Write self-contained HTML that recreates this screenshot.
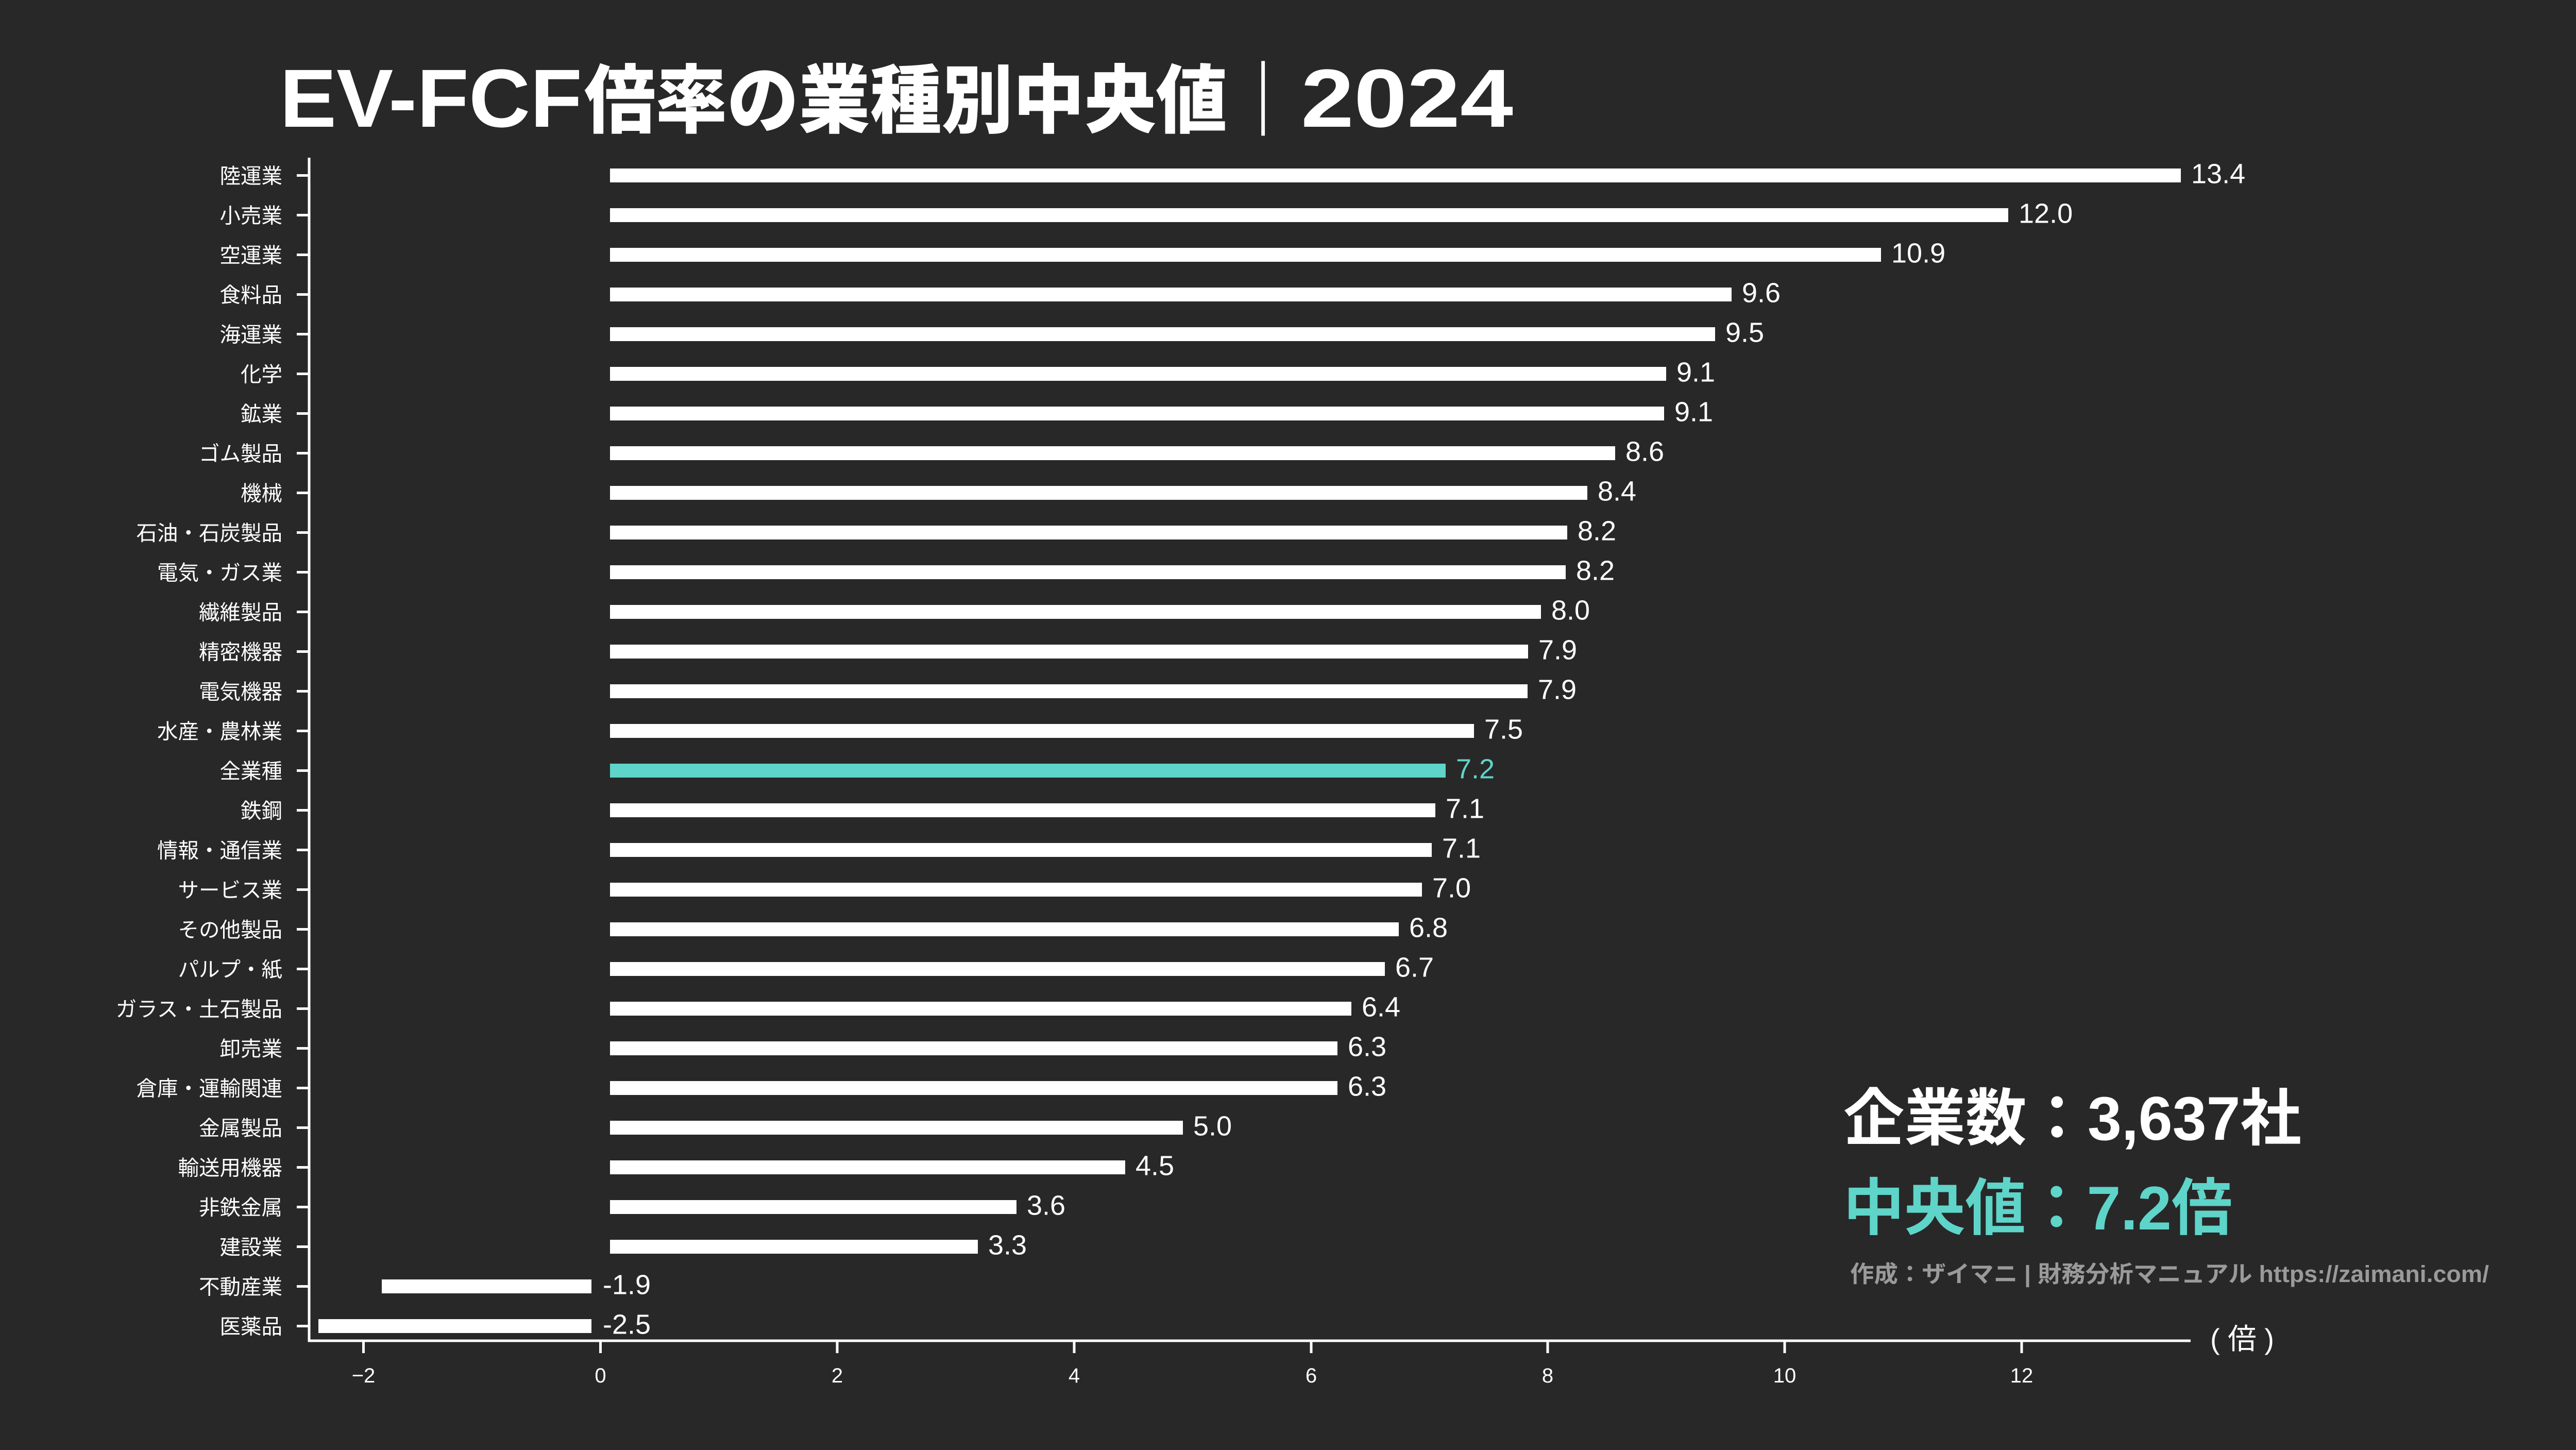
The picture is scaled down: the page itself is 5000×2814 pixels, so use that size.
<!DOCTYPE html>
<html><head><meta charset="utf-8">
<style>
html,body{margin:0;padding:0;background:#282828;}
svg{display:block;}
text{font-family:"Liberation Sans","Noto Sans CJK JP",sans-serif;}
</style></head>
<body>
<svg width="5000" height="2814" viewBox="0 0 5000 2814" xmlns="http://www.w3.org/2000/svg">
<rect width="5000" height="2814" fill="#282828"/>

<!-- Title -->
<text x="543" y="246" font-size="160" font-weight="900" fill="#fff" textLength="587" lengthAdjust="spacingAndGlyphs">EV-FCF</text>
<text x="1134" y="246" font-size="145" font-weight="900" fill="#fff" textLength="1387" lengthAdjust="spacingAndGlyphs">倍率の業種別中央値｜</text>
<text x="2525" y="246" font-size="160" font-weight="900" fill="#fff" textLength="412" lengthAdjust="spacingAndGlyphs">2024</text>

<!-- axes -->
<line x1="600" y1="306" x2="600" y2="2604" stroke="#fff" stroke-width="5"/>
<line x1="598" y1="2602" x2="4252" y2="2602" stroke="#fff" stroke-width="5"/>

<!-- x ticks -->
<g stroke="#fff" stroke-width="5">
<line x1="705.5" y1="2604" x2="705.5" y2="2626"/>
<line x1="1165.5" y1="2604" x2="1165.5" y2="2626"/>
<line x1="1625" y1="2604" x2="1625" y2="2626"/>
<line x1="2085" y1="2604" x2="2085" y2="2626"/>
<line x1="2545" y1="2604" x2="2545" y2="2626"/>
<line x1="3004" y1="2604" x2="3004" y2="2626"/>
<line x1="3464" y1="2604" x2="3464" y2="2626"/>
<line x1="3924" y1="2604" x2="3924" y2="2626"/>
</g>
<g font-size="40" fill="#fff" text-anchor="middle">
<text x="705.5" y="2683">−2</text>
<text x="1165.5" y="2683">0</text>
<text x="1625" y="2683">2</text>
<text x="2085" y="2683">4</text>
<text x="2545" y="2683">6</text>
<text x="3004" y="2683">8</text>
<text x="3464" y="2683">10</text>
<text x="3924" y="2683">12</text>
</g>
<text x="4290" y="2618" font-size="56" fill="#fff" textLength="124" lengthAdjust="spacingAndGlyphs">( 倍 )</text>

<!-- rows -->
<g font-size="40.5" fill="#fff">
<g transform="translate(0,340.5)"><line x1="576" y1="0" x2="600" y2="0" stroke="#fff" stroke-width="5"/><text x="548" y="15" text-anchor="end">陸運業</text><rect x="1184" y="-13.5" width="3049" height="27" fill="#fff"/><text x="4253" y="15" font-size="54">13.4</text></g>
<g transform="translate(0,417.5)"><line x1="576" y1="0" x2="600" y2="0" stroke="#fff" stroke-width="5"/><text x="548" y="15" text-anchor="end">小売業</text><rect x="1184" y="-13.5" width="2714" height="27" fill="#fff"/><text x="3918" y="15" font-size="54">12.0</text></g>
<g transform="translate(0,494.5)"><line x1="576" y1="0" x2="600" y2="0" stroke="#fff" stroke-width="5"/><text x="548" y="15" text-anchor="end">空運業</text><rect x="1184" y="-13.5" width="2467" height="27" fill="#fff"/><text x="3671" y="15" font-size="54">10.9</text></g>
<g transform="translate(0,571.5)"><line x1="576" y1="0" x2="600" y2="0" stroke="#fff" stroke-width="5"/><text x="548" y="15" text-anchor="end">食料品</text><rect x="1184" y="-13.5" width="2177" height="27" fill="#fff"/><text x="3381" y="15" font-size="54">9.6</text></g>
<g transform="translate(0,648.5)"><line x1="576" y1="0" x2="600" y2="0" stroke="#fff" stroke-width="5"/><text x="548" y="15" text-anchor="end">海運業</text><rect x="1184" y="-13.5" width="2145" height="27" fill="#fff"/><text x="3349" y="15" font-size="54">9.5</text></g>
<g transform="translate(0,725.5)"><line x1="576" y1="0" x2="600" y2="0" stroke="#fff" stroke-width="5"/><text x="548" y="15" text-anchor="end">化学</text><rect x="1184" y="-13.5" width="2050" height="27" fill="#fff"/><text x="3254" y="15" font-size="54">9.1</text></g>
<g transform="translate(0,802.5)"><line x1="576" y1="0" x2="600" y2="0" stroke="#fff" stroke-width="5"/><text x="548" y="15" text-anchor="end">鉱業</text><rect x="1184" y="-13.5" width="2046" height="27" fill="#fff"/><text x="3250" y="15" font-size="54">9.1</text></g>
<g transform="translate(0,879.5)"><line x1="576" y1="0" x2="600" y2="0" stroke="#fff" stroke-width="5"/><text x="548" y="15" text-anchor="end">ゴム製品</text><rect x="1184" y="-13.5" width="1951" height="27" fill="#fff"/><text x="3155" y="15" font-size="54">8.6</text></g>
<g transform="translate(0,956.5)"><line x1="576" y1="0" x2="600" y2="0" stroke="#fff" stroke-width="5"/><text x="548" y="15" text-anchor="end">機械</text><rect x="1184" y="-13.5" width="1897" height="27" fill="#fff"/><text x="3101" y="15" font-size="54">8.4</text></g>
<g transform="translate(0,1033.5)"><line x1="576" y1="0" x2="600" y2="0" stroke="#fff" stroke-width="5"/><text x="548" y="15" text-anchor="end">石油・石炭製品</text><rect x="1184" y="-13.5" width="1858" height="27" fill="#fff"/><text x="3062" y="15" font-size="54">8.2</text></g>
<g transform="translate(0,1110.5)"><line x1="576" y1="0" x2="600" y2="0" stroke="#fff" stroke-width="5"/><text x="548" y="15" text-anchor="end">電気・ガス業</text><rect x="1184" y="-13.5" width="1855" height="27" fill="#fff"/><text x="3059" y="15" font-size="54">8.2</text></g>
<g transform="translate(0,1187.5)"><line x1="576" y1="0" x2="600" y2="0" stroke="#fff" stroke-width="5"/><text x="548" y="15" text-anchor="end">繊維製品</text><rect x="1184" y="-13.5" width="1807" height="27" fill="#fff"/><text x="3011" y="15" font-size="54">8.0</text></g>
<g transform="translate(0,1264.5)"><line x1="576" y1="0" x2="600" y2="0" stroke="#fff" stroke-width="5"/><text x="548" y="15" text-anchor="end">精密機器</text><rect x="1184" y="-13.5" width="1782" height="27" fill="#fff"/><text x="2986" y="15" font-size="54">7.9</text></g>
<g transform="translate(0,1341.5)"><line x1="576" y1="0" x2="600" y2="0" stroke="#fff" stroke-width="5"/><text x="548" y="15" text-anchor="end">電気機器</text><rect x="1184" y="-13.5" width="1781" height="27" fill="#fff"/><text x="2985" y="15" font-size="54">7.9</text></g>
<g transform="translate(0,1418.5)"><line x1="576" y1="0" x2="600" y2="0" stroke="#fff" stroke-width="5"/><text x="548" y="15" text-anchor="end">水産・農林業</text><rect x="1184" y="-13.5" width="1677" height="27" fill="#fff"/><text x="2881" y="15" font-size="54">7.5</text></g>
<g transform="translate(0,1495.5)"><line x1="576" y1="0" x2="600" y2="0" stroke="#fff" stroke-width="5"/><text x="548" y="15" text-anchor="end">全業種</text><rect x="1184" y="-13.5" width="1622" height="27" fill="#5fd4c9"/><text x="2826" y="15" font-size="54" fill="#5fd4c9">7.2</text></g>
<g transform="translate(0,1572.5)"><line x1="576" y1="0" x2="600" y2="0" stroke="#fff" stroke-width="5"/><text x="548" y="15" text-anchor="end">鉄鋼</text><rect x="1184" y="-13.5" width="1602" height="27" fill="#fff"/><text x="2806" y="15" font-size="54">7.1</text></g>
<g transform="translate(0,1649.5)"><line x1="576" y1="0" x2="600" y2="0" stroke="#fff" stroke-width="5"/><text x="548" y="15" text-anchor="end">情報・通信業</text><rect x="1184" y="-13.5" width="1595" height="27" fill="#fff"/><text x="2799" y="15" font-size="54">7.1</text></g>
<g transform="translate(0,1726.5)"><line x1="576" y1="0" x2="600" y2="0" stroke="#fff" stroke-width="5"/><text x="548" y="15" text-anchor="end">サービス業</text><rect x="1184" y="-13.5" width="1576" height="27" fill="#fff"/><text x="2780" y="15" font-size="54">7.0</text></g>
<g transform="translate(0,1803.5)"><line x1="576" y1="0" x2="600" y2="0" stroke="#fff" stroke-width="5"/><text x="548" y="15" text-anchor="end">その他製品</text><rect x="1184" y="-13.5" width="1531" height="27" fill="#fff"/><text x="2735" y="15" font-size="54">6.8</text></g>
<g transform="translate(0,1880.5)"><line x1="576" y1="0" x2="600" y2="0" stroke="#fff" stroke-width="5"/><text x="548" y="15" text-anchor="end">パルプ・紙</text><rect x="1184" y="-13.5" width="1504" height="27" fill="#fff"/><text x="2708" y="15" font-size="54">6.7</text></g>
<g transform="translate(0,1957.5)"><line x1="576" y1="0" x2="600" y2="0" stroke="#fff" stroke-width="5"/><text x="548" y="15" text-anchor="end">ガラス・土石製品</text><rect x="1184" y="-13.5" width="1439" height="27" fill="#fff"/><text x="2643" y="15" font-size="54">6.4</text></g>
<g transform="translate(0,2034.5)"><line x1="576" y1="0" x2="600" y2="0" stroke="#fff" stroke-width="5"/><text x="548" y="15" text-anchor="end">卸売業</text><rect x="1184" y="-13.5" width="1412" height="27" fill="#fff"/><text x="2616" y="15" font-size="54">6.3</text></g>
<g transform="translate(0,2111.5)"><line x1="576" y1="0" x2="600" y2="0" stroke="#fff" stroke-width="5"/><text x="548" y="15" text-anchor="end">倉庫・運輸関連</text><rect x="1184" y="-13.5" width="1412" height="27" fill="#fff"/><text x="2616" y="15" font-size="54">6.3</text></g>
<g transform="translate(0,2188.5)"><line x1="576" y1="0" x2="600" y2="0" stroke="#fff" stroke-width="5"/><text x="548" y="15" text-anchor="end">金属製品</text><rect x="1184" y="-13.5" width="1112" height="27" fill="#fff"/><text x="2316" y="15" font-size="54">5.0</text></g>
<g transform="translate(0,2265.5)"><line x1="576" y1="0" x2="600" y2="0" stroke="#fff" stroke-width="5"/><text x="548" y="15" text-anchor="end">輸送用機器</text><rect x="1184" y="-13.5" width="1000" height="27" fill="#fff"/><text x="2204" y="15" font-size="54">4.5</text></g>
<g transform="translate(0,2342.5)"><line x1="576" y1="0" x2="600" y2="0" stroke="#fff" stroke-width="5"/><text x="548" y="15" text-anchor="end">非鉄金属</text><rect x="1184" y="-13.5" width="789" height="27" fill="#fff"/><text x="1993" y="15" font-size="54">3.6</text></g>
<g transform="translate(0,2419.5)"><line x1="576" y1="0" x2="600" y2="0" stroke="#fff" stroke-width="5"/><text x="548" y="15" text-anchor="end">建設業</text><rect x="1184" y="-13.5" width="714" height="27" fill="#fff"/><text x="1918" y="15" font-size="54">3.3</text></g>
<g transform="translate(0,2496.5)"><line x1="576" y1="0" x2="600" y2="0" stroke="#fff" stroke-width="5"/><text x="548" y="15" text-anchor="end">不動産業</text><rect x="741" y="-13.5" width="407" height="27" fill="#fff"/><text x="1170" y="15" font-size="54">-1.9</text></g>
<g transform="translate(0,2573.5)"><line x1="576" y1="0" x2="600" y2="0" stroke="#fff" stroke-width="5"/><text x="548" y="15" text-anchor="end">医薬品</text><rect x="618" y="-13.5" width="530" height="27" fill="#fff"/><text x="1170" y="15" font-size="54">-2.5</text></g>
</g>

<!-- summary text -->
<text x="3578" y="2212" font-size="120" font-weight="700" fill="#fff" textLength="889" lengthAdjust="spacingAndGlyphs">企業数：3,637社</text>
<text x="3578" y="2386" font-size="120" font-weight="700" fill="#5fd4c9" textLength="755" lengthAdjust="spacingAndGlyphs">中央値：7.2倍</text>
<text x="3591" y="2488" font-size="45" font-weight="700" fill="#9a9a9a" textLength="1240" lengthAdjust="spacingAndGlyphs">作成：ザイマニ | 財務分析マニュアル https://zaimani.com/</text>
</svg>
</body></html>
